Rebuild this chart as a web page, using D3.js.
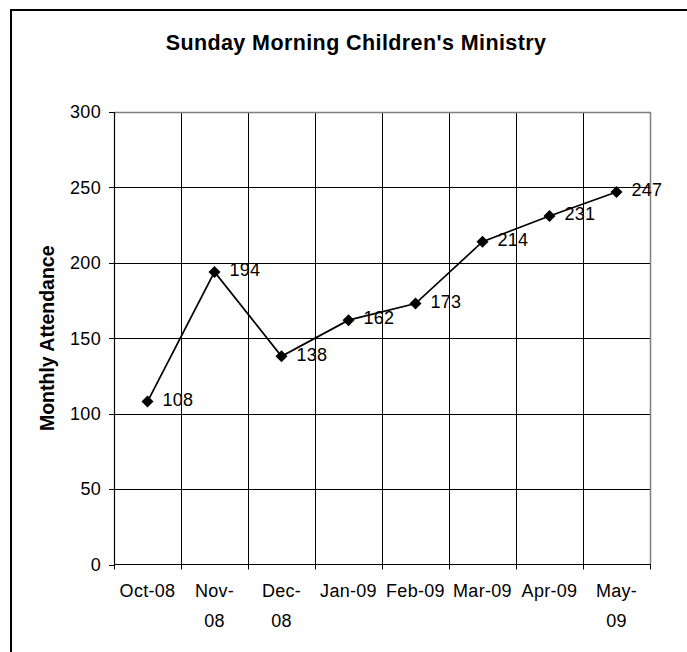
<!DOCTYPE html>
<html>
<head>
<meta charset="utf-8">
<script src="https://cdn.jsdelivr.net/npm/d3@7"></script>
<style>
  body { margin: 0; background: #fff; }
  svg text { font-family: "Liberation Sans", Arial, sans-serif; fill: #000; }
</style>
</head>
<body>
<div id="chart"></div>
<script>
// data
var months = ["Oct-08", "Nov-08", "Dec-08", "Jan-09", "Feb-09", "Mar-09", "Apr-09", "May-09"];
var monthLines = [["Oct-08"], ["Nov-", "08"], ["Dec-", "08"], ["Jan-09"], ["Feb-09"], ["Mar-09"], ["Apr-09"], ["May-", "09"]];
var attendance = [108, 194, 138, 162, 173, 214, 231, 247];
var yTicks = [0, 50, 100, 150, 200, 250, 300];

var svgWidth = 687;
var svgHeight = 652;

var plot = { left: 114, right: 650, top: 112, bottom: 564.5 };

var svg = d3.select("#chart")
    .append("svg")
    .attr("width", svgWidth)
    .attr("height", svgHeight);

// outer chart frame (runs past the window on right and bottom)
svg.append("rect")
    .attr("x", 11)
    .attr("y", 10)
    .attr("width", 720)
    .attr("height", 720)
    .attr("fill", "none")
    .attr("stroke", "#000")
    .attr("stroke-width", 2);

var xScale = d3.scaleBand()
    .domain(months)
    .range([plot.left, plot.right]);

var yScale = d3.scaleLinear()
    .domain([0, 300])
    .range([plot.bottom, plot.top]);

// category boundaries for vertical grid and ticks
var bounds = months.map(function(m) { return xScale(m); }).concat([plot.right]);

// horizontal gridlines
svg.append("g")
    .selectAll("line")
    .data(yTicks.filter(function(t) { return t > 0 && t < 300; }))
    .enter()
    .append("line")
    .attr("x1", plot.left)
    .attr("x2", plot.right)
    .attr("y1", function(d) { return Math.round(yScale(d)) + 0.5; })
    .attr("y2", function(d) { return Math.round(yScale(d)) + 0.5; })
    .attr("stroke", "#000")
    .attr("stroke-width", 1);

// vertical gridlines
svg.append("g")
    .selectAll("line")
    .data(bounds.slice(1, -1))
    .enter()
    .append("line")
    .attr("x1", function(d) { return Math.round(d) + 0.5; })
    .attr("x2", function(d) { return Math.round(d) + 0.5; })
    .attr("y1", plot.top)
    .attr("y2", plot.bottom)
    .attr("stroke", "#000")
    .attr("stroke-width", 1);

// plot area border top / right in gray
svg.append("path")
    .attr("d", "M" + plot.left + "," + (plot.top + 0.5) + "H" + (plot.right + 0.5) + "V" + plot.bottom)
    .attr("fill", "none")
    .attr("stroke", "#808080")
    .attr("stroke-width", 1.5);

// y axis line and ticks
svg.append("line")
    .attr("x1", plot.left + 0.5).attr("x2", plot.left + 0.5)
    .attr("y1", plot.top).attr("y2", plot.bottom)
    .attr("stroke", "#000").attr("stroke-width", 1.2);

var yAxisG = svg.append("g");
yAxisG.selectAll("line")
    .data(yTicks)
    .enter()
    .append("line")
    .attr("x1", plot.left - 5)
    .attr("x2", plot.left)
    .attr("y1", function(d) { return Math.round(yScale(d)) + 0.5; })
    .attr("y2", function(d) { return Math.round(yScale(d)) + 0.5; })
    .attr("stroke", "#000");

yAxisG.selectAll("text")
    .data(yTicks)
    .enter()
    .append("text")
    .attr("x", 101)
    .attr("y", function(d) { return yScale(d); })
    .attr("dy", "0.35em")
    .attr("text-anchor", "end")
    .style("font-size", "18px")
    .style("letter-spacing", "0.3px")
    .text(function(d) { return d; });

// x axis line and ticks
svg.append("line")
    .attr("x1", plot.left).attr("x2", plot.right + 1)
    .attr("y1", plot.bottom).attr("y2", plot.bottom)
    .attr("stroke", "#000").attr("stroke-width", 1.2);

var xAxisG = svg.append("g");
xAxisG.selectAll("line")
    .data(bounds)
    .enter()
    .append("line")
    .attr("x1", function(d) { return Math.round(d) + 0.5; })
    .attr("x2", function(d) { return Math.round(d) + 0.5; })
    .attr("y1", plot.bottom)
    .attr("y2", plot.bottom + 5)
    .attr("stroke", "#000");

var xLabels = xAxisG.selectAll("text")
    .data(months)
    .enter()
    .append("text")
    .attr("x", function(d) { return xScale(d) + xScale.bandwidth() / 2; })
    .attr("y", 597)
    .attr("text-anchor", "middle")
    .style("font-size", "18px")
    .style("letter-spacing", "0.3px");

xLabels.each(function(d, i) {
    var t = d3.select(this);
    monthLines[i].forEach(function(line, j) {
        t.append("tspan")
            .attr("x", xScale(d) + xScale.bandwidth() / 2)
            .attr("dy", j === 0 ? 0 : 30)
            .text(line);
    });
});

// the series line
var line = d3.line()
    .x(function(d, i) { return xScale(months[i]) + xScale.bandwidth() / 2; })
    .y(function(d) { return yScale(d); });

svg.append("path")
    .datum(attendance)
    .attr("d", line)
    .attr("fill", "none")
    .attr("stroke", "#000")
    .attr("stroke-width", 1.7);

// diamond markers
svg.append("g")
    .selectAll("path")
    .data(attendance)
    .enter()
    .append("path")
    .attr("transform", function(d, i) {
        return "translate(" + (xScale(months[i]) + xScale.bandwidth() / 2) + "," + yScale(d) + ")";
    })
    .attr("d", "M0,-6L6,0L0,6L-6,0Z")
    .attr("fill", "#000");

// data labels
svg.append("g")
    .selectAll("text")
    .data(attendance)
    .enter()
    .append("text")
    .attr("x", function(d, i) { return xScale(months[i]) + xScale.bandwidth() / 2 + 15; })
    .attr("y", function(d) { return yScale(d) - 2; })
    .attr("dy", "0.35em")
    .style("font-size", "18px")
    .style("letter-spacing", "0.3px")
    .text(function(d) { return d; });

// title
svg.append("text")
    .attr("x", 356)
    .attr("y", 49.5)
    .attr("text-anchor", "middle")
    .style("font-size", "21.5px")
    .style("font-weight", "bold")
    .style("letter-spacing", "0.4px")
    .text("Sunday Morning Children's Ministry");

// y axis title
svg.append("text")
    .attr("transform", "translate(53.5," + ((plot.top + plot.bottom) / 2) + ") rotate(-90)")
    .attr("text-anchor", "middle")
    .style("font-size", "19.5px")
    .style("font-weight", "bold")
    .text("Monthly Attendance");
</script>
</body>
</html>
